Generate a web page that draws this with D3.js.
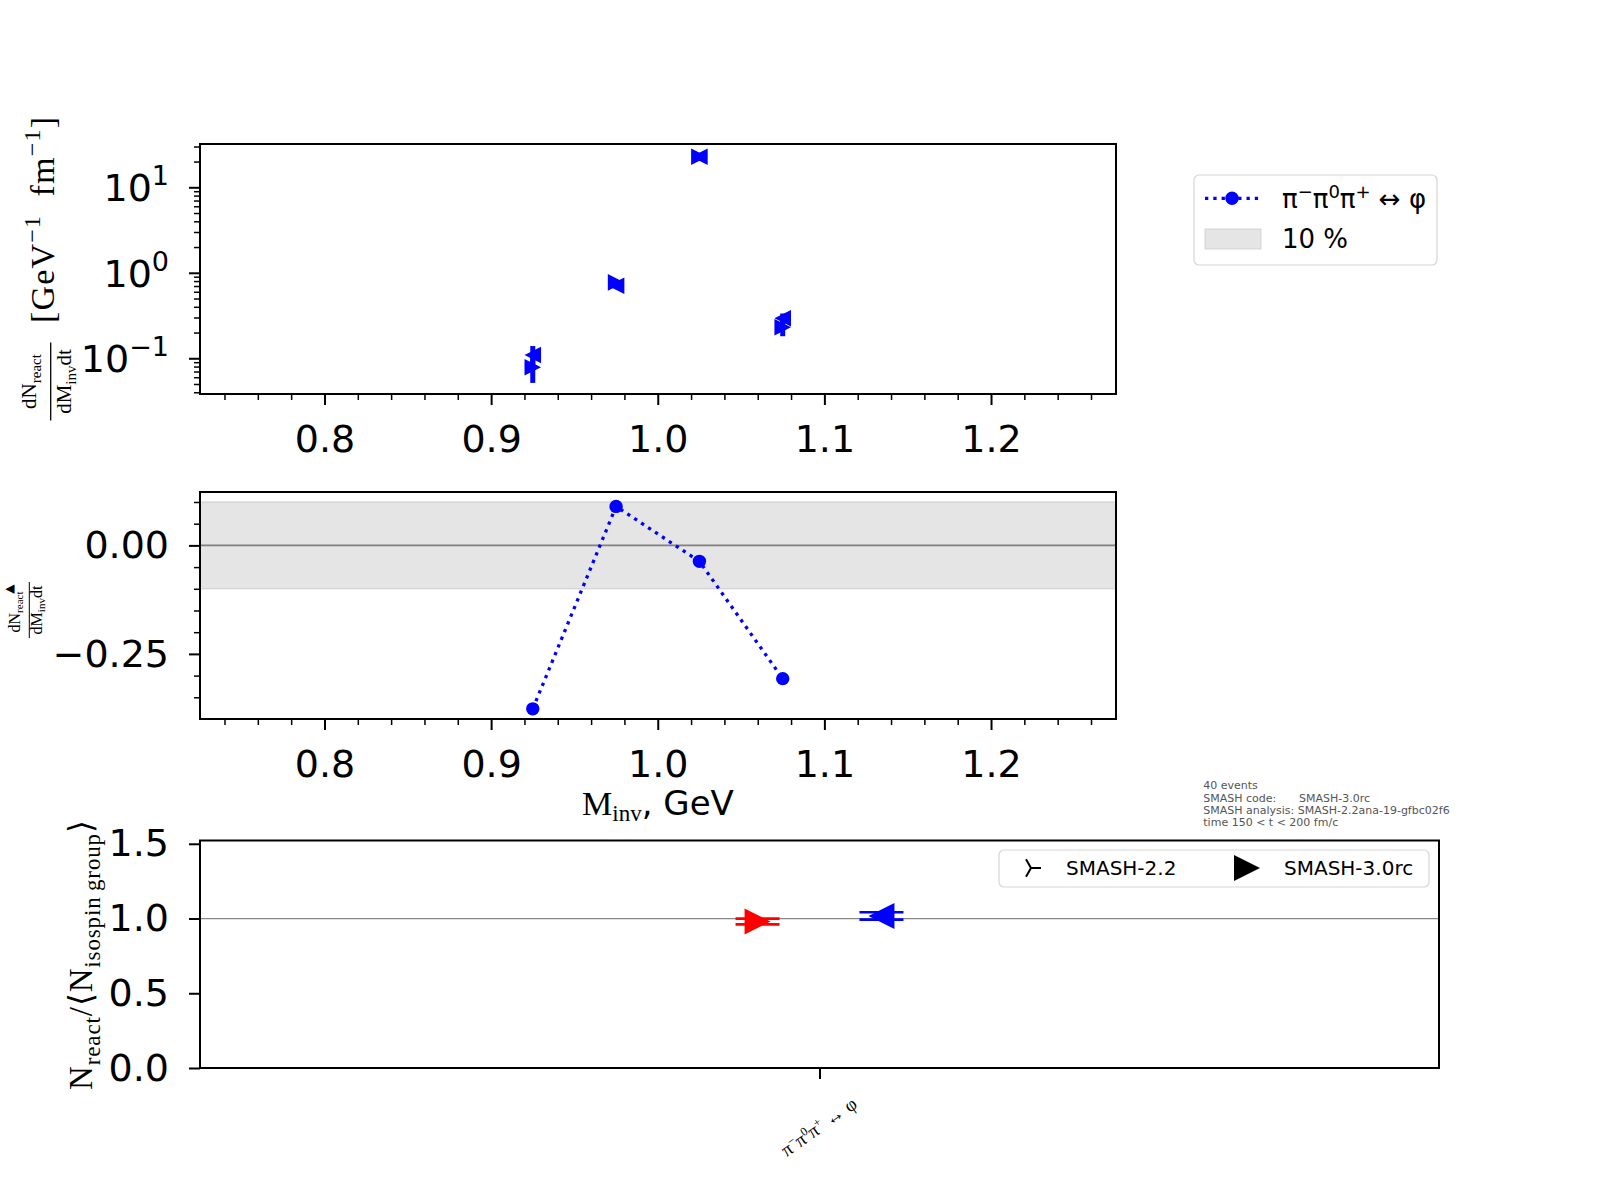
<!DOCTYPE html>
<html>
<head>
<meta charset="UTF-8" />
<title>pi- pi0 pi+ <-> phi</title>
<script src="https://d3js.org/d3.v7.min.js"></script>
<style>
  body { margin: 0; background: #fff; }
  text { fill: #000; }
  .tick line { stroke: #000; }
</style>
</head>
<body>
<script>
// invariant mass bins (GeV)
var massBins = [0.925, 0.975, 1.025, 1.075];
// dN/dM dt, right-pointing triangle series
var rateA = [0.0785, 0.772, 22.8, 0.231];
var rateAErr = [0.027, 0.03, 0.6, 0.05];
// dN/dM dt, left-pointing triangle series
var rateB = [0.109, 0.705, 22.8, 0.294];
var rateBErr = [0.03, 0.03, 0.6, 0.04];
// relative difference (middle panel)
var relDiff = [-0.3766, 0.0898, -0.0368, -0.307];
var band = 0.1;
// bottom panel: one reaction, two versions
var reactions = ["reaction"];
var ratioRed = [0.98], ratioRedErr = [0.019];
var ratioBlue = [1.017], ratioBlueErr = [0.025];
var infoLines = ["40 events", "SMASH code:", "SMASH analysis: SMASH-2.2ana-19-gfbc02f6", "time 150 < t < 200 fm/c"];

var SANS = "DejaVu Sans", SERIF = "Liberation Serif";

var svg = d3.select("body").append("svg")
  .attr("width", 1600).attr("height", 1200);
svg.append("rect").attr("width", 1600).attr("height", 1200).attr("fill", "#fff");

// panel boxes
var top_ = {x0: 200, x1: 1116, y0: 144, y1: 394};
var mid = {x0: 200, x1: 1116, y0: 492, y1: 719};
var bot = {x0: 200, x1: 1439, y0: 840.5, y1: 1068};

var x = d3.scaleLinear().domain([0.7253, 1.275]).range([top_.x0, top_.x1]);
var yLog = d3.scaleLog().domain([0.0382, 32.1]).range([top_.y1, top_.y0]);
var yMid = d3.scaleLinear().domain([-0.4, 0.123]).range([mid.y1, mid.y0]);
var xBot = d3.scaleLinear().domain([-0.5, 0.5]).range([bot.x0, bot.x1]);
var yBot = d3.scaleLinear().domain([0, 1.522]).range([bot.y1, bot.y0]);

var TICKFONT = 38;

function styleAxis(g, size) {
  g.select(".domain").remove();
  g.selectAll(".tick line").attr("stroke-width", size > 8 ? 2 : 1.5);
  g.selectAll(".tick text").attr("font-family", SANS).attr("font-size", TICKFONT).attr("fill", "#000");
}

function xAxes(p) {
  var minors = d3.range(0.74, 1.27, 0.02).filter(function(v) { return Math.abs(v * 10 - Math.round(v * 10)) > 1e-6; });
  var gm = svg.append("g").attr("transform", "translate(0," + p.y1 + ")")
    .call(d3.axisBottom(x).tickValues(minors).tickSize(6).tickFormat(""));
  styleAxis(gm, 6);
  var g = svg.append("g").attr("transform", "translate(0," + p.y1 + ")")
    .call(d3.axisBottom(x).tickValues([0.8, 0.9, 1.0, 1.1, 1.2]).tickSize(11).tickPadding(20).tickFormat(d3.format(".1f")));
  styleAxis(g, 11);
}

function frame(p) {
  svg.append("rect").attr("x", p.x0).attr("y", p.y0)
    .attr("width", p.x1 - p.x0).attr("height", p.y1 - p.y0)
    .attr("fill", "none").attr("stroke", "#000").attr("stroke-width", 2);
}

function tri(cx, cy, r, dir) {
  // dir 1 = pointing right, -1 = pointing left
  return "M" + (cx + dir * r) + "," + cy + "L" + (cx - dir * r) + "," + (cy - r) + "L" + (cx - dir * r) + "," + (cy + r) + "Z";
}

// ---------- top panel ----------
xAxes(top_);
var logMinor = [];
[0.01, 0.1, 1, 10].forEach(function(dec) {
  for (var k = 2; k <= 9; k++) {
    var v = k * dec;
    if (v >= 0.0382 && v <= 32.1) logMinor.push(v);
  }
});
var gl = svg.append("g").attr("transform", "translate(" + top_.x0 + ",0)")
  .call(d3.axisLeft(yLog).tickValues(logMinor).tickSize(6).tickFormat(""));
styleAxis(gl, 6);
var gL = svg.append("g").attr("transform", "translate(" + top_.x0 + ",0)")
  .call(d3.axisLeft(yLog).tickValues([0.1, 1, 10]).tickSize(11).tickFormat(""));
styleAxis(gL, 11);
[[0.1, "\u22121"], [1, "0"], [10, "1"]].forEach(function(t) {
  var tx = svg.append("text").attr("x", 169).attr("y", yLog(t[0]) + 14)
    .attr("text-anchor", "end").attr("font-family", SANS).attr("font-size", TICKFONT);
  tx.append("tspan").text("10");
  tx.append("tspan").attr("font-size", 27).attr("dy", -16).text(t[1]);
});

var topPts = svg.append("g");
massBins.forEach(function(m, i) {
  [[rateA, rateAErr, 1], [rateB, rateBErr, -1]].forEach(function(s) {
    var v = s[0][i], e = s[1][i];
    topPts.append("line").attr("x1", x(m)).attr("x2", x(m))
      .attr("y1", yLog(v - e)).attr("y2", yLog(v + e))
      .attr("stroke", "#0000ff").attr("stroke-width", 5);
    topPts.append("path").attr("d", tri(x(m), yLog(v), 8.3, s[2])).attr("fill", "#0000ff");
  });
});
frame(top_);

// y label top
var yl = svg.append("g").attr("transform", "translate(50.7,268.5) rotate(-90)").attr("font-family", SERIF);
yl.append("line").attr("x1", -152).attr("x2", -74).attr("y1", 0).attr("y2", 0).attr("stroke", "#000").attr("stroke-width", 1.3);
var num = yl.append("text").attr("x", -113).attr("y", -15).attr("text-anchor", "middle").attr("font-size", 21);
num.append("tspan").text("dN");
num.append("tspan").attr("font-size", 15).attr("dy", 5).text("react");
var den = yl.append("text").attr("x", -113).attr("y", 20).attr("text-anchor", "middle").attr("font-size", 21);
den.append("tspan").text("dM");
den.append("tspan").attr("font-size", 15).attr("dy", 5).text("inv");
den.append("tspan").attr("dy", -5).text("dt");
var br = yl.append("text").attr("x", 48.5).attr("y", 3).attr("text-anchor", "middle").attr("font-size", 34)
  .attr("textLength", 206).attr("lengthAdjust", "spacing");
br.append("tspan").text("[GeV");
br.append("tspan").attr("font-size", 24).attr("dy", -14).text("\u22121");
br.append("tspan").attr("dy", 14).text("\u2002fm");
br.append("tspan").attr("font-size", 24).attr("dy", -14).text("\u22121");
br.append("tspan").attr("dy", 14).text("]");

// ---------- middle panel ----------
svg.append("rect").attr("x", mid.x0).attr("width", mid.x1 - mid.x0)
  .attr("y", yMid(band)).attr("height", yMid(-band) - yMid(band))
  .attr("fill", "#e5e5e5").attr("stroke", "#cccccc").attr("stroke-width", 1);
svg.append("line").attr("x1", mid.x0).attr("x2", mid.x1).attr("y1", yMid(0)).attr("y2", yMid(0))
  .attr("stroke", "#808080").attr("stroke-width", 1.8);
xAxes(mid);
var gmm = svg.append("g").attr("transform", "translate(" + mid.x0 + ",0)")
  .call(d3.axisLeft(yMid).tickValues([0.1, 0.05, -0.05, -0.1, -0.15, -0.2, -0.3, -0.35]).tickSize(6).tickFormat(""));
styleAxis(gmm, 6);
var gM = svg.append("g").attr("transform", "translate(" + mid.x0 + ",0)")
  .call(d3.axisLeft(yMid).tickValues([0, -0.25]).tickSize(11).tickPadding(20).tickFormat(d3.format(".2f")));
styleAxis(gM, 11);

var line = d3.line().x(function(d, i) { return x(massBins[i]); }).y(function(d) { return yMid(d); });
svg.append("path").datum(relDiff).attr("d", line).attr("fill", "none")
  .attr("stroke", "#0000ff").attr("stroke-width", 3.3).attr("stroke-dasharray", "3.3,5");
svg.append("g").selectAll("circle").data(relDiff).enter().append("circle")
  .attr("cx", function(d, i) { return x(massBins[i]); })
  .attr("cy", function(d) { return yMid(d); })
  .attr("r", 6.7).attr("fill", "#0000ff");
frame(mid);

// x label
var xl = svg.append("text").attr("x", 658).attr("y", 815).attr("text-anchor", "middle").attr("font-size", 34);
xl.append("tspan").attr("font-family", SERIF).text("M");
xl.append("tspan").attr("font-family", SERIF).attr("font-size", 23).attr("dy", 6).text("inv");
xl.append("tspan").attr("font-family", SANS).attr("dy", -6).text(", GeV");

// y label middle
var ml = svg.append("g").attr("transform", "translate(29.3,610) rotate(-90)").attr("font-family", SERIF);
ml.append("line").attr("x1", -28).attr("x2", 28).attr("y1", 0).attr("y2", 0).attr("stroke", "#000").attr("stroke-width", 1);
var mn = ml.append("text").attr("x", -2).attr("y", -9).attr("text-anchor", "middle").attr("font-size", 16);
mn.append("tspan").text("dN");
mn.append("tspan").attr("font-size", 11).attr("dy", 3).text("react");
ml.append("text").attr("x", 21).attr("y", -16).attr("text-anchor", "middle").attr("font-family", SANS).attr("font-size", 12).text("\u25b2");
var md = ml.append("text").attr("x", 0).attr("y", 13).attr("text-anchor", "middle").attr("font-size", 16);
md.append("tspan").text("dM");
md.append("tspan").attr("font-size", 11).attr("dy", 3).text("inv");
md.append("tspan").attr("dy", -3).text("dt");

// legend top right
var lg = svg.append("g");
lg.append("rect").attr("x", 1194).attr("y", 175).attr("width", 243).attr("height", 90).attr("rx", 5)
  .attr("fill", "#fff").attr("stroke", "#d5d5d5").attr("stroke-width", 1.2);
lg.append("line").attr("x1", 1205).attr("x2", 1261).attr("y1", 198.3).attr("y2", 198.3)
  .attr("stroke", "#0000ff").attr("stroke-width", 3.3).attr("stroke-dasharray", "3.3,5");
lg.append("circle").attr("cx", 1232).attr("cy", 198.3).attr("r", 6.7).attr("fill", "#0000ff");
lg.append("rect").attr("x", 1205).attr("y", 229).attr("width", 56).attr("height", 20)
  .attr("fill", "#e5e5e5").attr("stroke", "#cccccc").attr("stroke-width", 0.8);
var lt = lg.append("text").attr("x", 1282).attr("y", 207.5).attr("font-family", SANS).attr("font-size", 26);
lt.append("tspan").text("\u03c0");
lt.append("tspan").attr("font-size", 18).attr("dy", -10).text("\u2212");
lt.append("tspan").attr("dy", 10).text("\u03c0");
lt.append("tspan").attr("font-size", 18).attr("dy", -10).text("0");
lt.append("tspan").attr("dy", 10).text("\u03c0");
lt.append("tspan").attr("font-size", 18).attr("dy", -10).text("+");
lt.append("tspan").attr("dy", 10).text(" \u2194 \u03c6");
lg.append("text").attr("x", 1282).attr("y", 248).attr("font-family", SANS).attr("font-size", 26).text("10 %");

// info text
infoLines.forEach(function(s, i) {
  svg.append("text").attr("x", 1203.3).attr("y", 789.3 + i * 12.3)
    .attr("font-family", SANS).attr("font-size", 11).style("fill", "#555").text(s);
});
svg.append("text").attr("x", 1299).attr("y", 789.3 + 12.3)
  .attr("font-family", SANS).attr("font-size", 11).style("fill", "#555").text("SMASH-3.0rc");

// ---------- bottom panel ----------
svg.append("line").attr("x1", bot.x0).attr("x2", bot.x1).attr("y1", yBot(1)).attr("y2", yBot(1))
  .attr("stroke", "#888").attr("stroke-width", 1.2);
var gB = svg.append("g").attr("transform", "translate(" + bot.x0 + ",0)")
  .call(d3.axisLeft(yBot).tickValues([0, 0.5, 1.0, 1.5]).tickSize(11).tickPadding(20).tickFormat(d3.format(".1f")));
styleAxis(gB, 11);
var gBx = svg.append("g").attr("transform", "translate(0," + bot.y1 + ")")
  .call(d3.axisBottom(xBot).tickValues([0]).tickSize(11).tickFormat(""));
styleAxis(gBx, 11);

function ratioMark(cx, v, e, color, dir) {
  [v - e, v + e].forEach(function(c) {
    svg.append("line").attr("x1", cx - 22).attr("x2", cx + 22).attr("y1", yBot(c)).attr("y2", yBot(c))
      .attr("stroke", color).attr("stroke-width", 2.7);
  });
  svg.append("line").attr("x1", cx).attr("x2", cx).attr("y1", yBot(v - e)).attr("y2", yBot(v + e))
    .attr("stroke", color).attr("stroke-width", 2.7);
  svg.append("path").attr("d", tri(cx, yBot(v), 13, dir)).attr("fill", color);
}
reactions.forEach(function(r, i) {
  ratioMark(xBot(i - 0.05), ratioRed[i], ratioRedErr[i], "#ff0000", 1);
  ratioMark(xBot(i + 0.05), ratioBlue[i], ratioBlueErr[i], "#0000ff", -1);
  var tl = svg.append("text").attr("transform", "translate(" + (xBot(i) + 3) + ",1132) rotate(-35)")
    .attr("text-anchor", "middle").attr("font-family", SERIF).attr("font-size", 19);
  tl.append("tspan").text("\u03c0");
  tl.append("tspan").attr("font-size", 12).attr("dy", -7).text("\u2212");
  tl.append("tspan").attr("dy", 7).text("\u03c0");
  tl.append("tspan").attr("font-size", 12).attr("dy", -7).text("0");
  tl.append("tspan").attr("dy", 7).text("\u03c0");
  tl.append("tspan").attr("font-size", 12).attr("dy", -7).text("+");
  tl.append("tspan").attr("dy", 7).text(" \u2194 \u03c6");
});
frame(bot);

// y label bottom
var bl = svg.append("g").attr("transform", "translate(92,955) rotate(-90)");
var blt = bl.append("text").attr("x", 0).attr("y", 0).attr("text-anchor", "middle")
  .attr("font-family", SERIF).attr("font-size", 33).attr("textLength", 270).attr("lengthAdjust", "spacing");
blt.append("tspan").text("N");
blt.append("tspan").attr("font-size", 23).attr("dy", 8).text("react");
blt.append("tspan").attr("dy", -8).text("/\u27e8N");
blt.append("tspan").attr("font-size", 23).attr("dy", 8).text("isospin\u2009group");
blt.append("tspan").attr("dy", -8).text("\u27e9");

// bottom legend
var bg = svg.append("g");
bg.append("rect").attr("x", 999).attr("y", 850).attr("width", 430).attr("height", 37).attr("rx", 5)
  .attr("fill", "#fff").attr("stroke", "#d5d5d5").attr("stroke-width", 1.2);
var tc = [1031, 868], tr = 10;
[[tr, 0], [-tr / 2, -0.866 * tr], [-tr / 2, 0.866 * tr]].forEach(function(p) {
  bg.append("line").attr("x1", tc[0]).attr("y1", tc[1]).attr("x2", tc[0] + p[0]).attr("y2", tc[1] + p[1])
    .attr("stroke", "#000").attr("stroke-width", 2);
});
bg.append("text").attr("x", 1066).attr("y", 874.5).attr("font-family", SANS).attr("font-size", 20).text("SMASH-2.2");
bg.append("path").attr("d", tri(1247, 868, 13, 1)).attr("fill", "#000");
bg.append("text").attr("x", 1284).attr("y", 874.5).attr("font-family", SANS).attr("font-size", 20).text("SMASH-3.0rc");
</script>
</body>
</html>
